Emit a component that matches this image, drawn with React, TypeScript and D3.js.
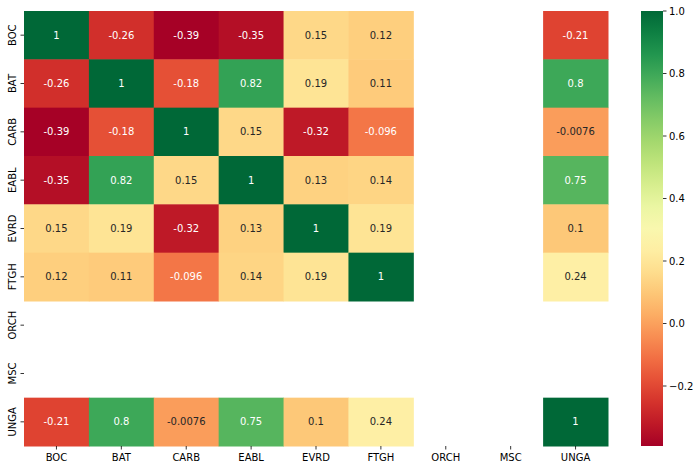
import * as d3 from "d3";
import { useMemo } from "react";

const tickers = ["BOC", "BAT", "CARB", "EABL", "EVRD", "FTGH", "ORCH", "MSC", "UNGA"];
const N = NaN;
const corrBOC = [1, -0.26, -0.39, -0.35, 0.15, 0.12, N, N, -0.21];
const corrBAT = [-0.26, 1, -0.18, 0.82, 0.19, 0.11, N, N, 0.8];
const corrCARB = [-0.39, -0.18, 1, 0.15, -0.32, -0.096, N, N, -0.0076];
const corrEABL = [-0.35, 0.82, 0.15, 1, 0.13, 0.14, N, N, 0.75];
const corrEVRD = [0.15, 0.19, -0.32, 0.13, 1, 0.19, N, N, 0.1];
const corrFTGH = [0.12, 0.11, -0.096, 0.14, 0.19, 1, N, N, 0.24];
const corrORCH = [N, N, N, N, N, N, N, N, N];
const corrMSC = [N, N, N, N, N, N, N, N, N];
const corrUNGA = [-0.21, 0.8, -0.0076, 0.75, 0.1, 0.24, N, N, 1];
const rows = [corrBOC, corrBAT, corrCARB, corrEABL, corrEVRD, corrFTGH, corrORCH, corrMSC, corrUNGA];
const colorbarTicks = [-0.2, 0, 0.2, 0.4, 0.6, 0.8, 1.0];
const vmin = -0.392;
const vmax = 1;

const left = 24;
const top = 11;
const gridW = 584;
const gridH = 435;
const cbX = 641;
const cbW = 22;
const font = "DejaVu Sans, sans-serif";

function luminance(c: string) {
  const rgb = d3.rgb(c);
  const f = (v: number) => {
    const s = v / 255;
    return s <= 0.03928 ? s / 12.92 : Math.pow((s + 0.055) / 1.055, 2.4);
  };
  return 0.2126 * f(rgb.r) + 0.7152 * f(rgb.g) + 0.0722 * f(rgb.b);
}

function fmt(v: number) {
  if (v === 1) return "1";
  return String(Number(v.toPrecision(2)));
}

export default function App() {
  const x = useMemo(() => d3.scaleBand<string>().domain(tickers).range([left, left + gridW]), []);
  const y = useMemo(() => d3.scaleBand<string>().domain(tickers).range([top, top + gridH]), []);
  const color = useMemo(
    () => d3.scaleSequential(d3.interpolateRdYlGn).domain([vmin, vmax]),
    []
  );
  const cbY = useMemo(() => d3.scaleLinear().domain([vmin, vmax]).range([top + gridH, top]), []);
  const stops = d3.range(0, 1.0001, 0.05);

  return (
    <svg width={700} height={470} style={{ display: "block", position: "absolute", left: 0, top: 0 }}>
      <defs>
        <linearGradient id="cb" x1="0" y1="1" x2="0" y2="0">
          {stops.map((t) => (
            <stop key={t} offset={t} stopColor={color(vmin + t * (vmax - vmin))} />
          ))}
        </linearGradient>
      </defs>
      <rect width={700} height={470} fill="#fff" />
      {rows.map((row, i) =>
        row.map((v, j) => {
          if (Number.isNaN(v)) return null;
          const c = color(v);
          const cx = x(tickers[j])!;
          const cy = y(tickers[i])!;
          return (
            <g key={`${i}-${j}`}>
              <rect x={cx} y={cy} width={x.bandwidth() + 0.5} height={y.bandwidth() + 0.5} fill={c} />
              <text
                x={cx + x.bandwidth() / 2}
                y={cy + y.bandwidth() / 2}
                textAnchor="middle"
                dominantBaseline="central"
                fontFamily={font}
                fontSize={10}
                fill={luminance(c) < 0.408 ? "#ffffff" : "#262626"}
              >
                {fmt(v)}
              </text>
            </g>
          );
        })
      )}
      {tickers.map((t) => (
        <g key={`x-${t}`}>
          <line
            x1={x(t)! + x.bandwidth() / 2}
            x2={x(t)! + x.bandwidth() / 2}
            y1={top + gridH}
            y2={top + gridH + 3.5}
            stroke="#000"
            strokeWidth={0.8}
          />
          <text
            x={x(t)! + x.bandwidth() / 2}
            y={top + gridH + 15}
            textAnchor="middle"
            fontFamily={font}
            fontSize={10}
            fill="#000"
          >
            {t}
          </text>
        </g>
      ))}
      {tickers.map((t) => {
        const cy = y(t)! + y.bandwidth() / 2;
        return (
          <g key={`y-${t}`}>
            <line x1={left - 3.5} x2={left} y1={cy} y2={cy} stroke="#000" strokeWidth={0.8} />
            <text
              transform={`translate(${left - 8},${cy}) rotate(-90)`}
              textAnchor="middle"
              fontFamily={font}
              fontSize={10}
              fill="#000"
            >
              {t}
            </text>
          </g>
        );
      })}
      <rect x={cbX} y={top} width={cbW} height={gridH} fill="url(#cb)" />
      {colorbarTicks.map((v) => (
        <g key={`cb-${v}`}>
          <line x1={cbX + cbW} x2={cbX + cbW + 3.5} y1={cbY(v)} y2={cbY(v)} stroke="#000" strokeWidth={0.8} />
          <text
            x={cbX + cbW + 6}
            y={cbY(v)}
            dominantBaseline="central"
            fontFamily={font}
            fontSize={10}
            fill="#000"
          >
            {v < 0 ? "\u2212" + Math.abs(v).toFixed(1) : v.toFixed(1)}
          </text>
        </g>
      ))}
    </svg>
  );
}
